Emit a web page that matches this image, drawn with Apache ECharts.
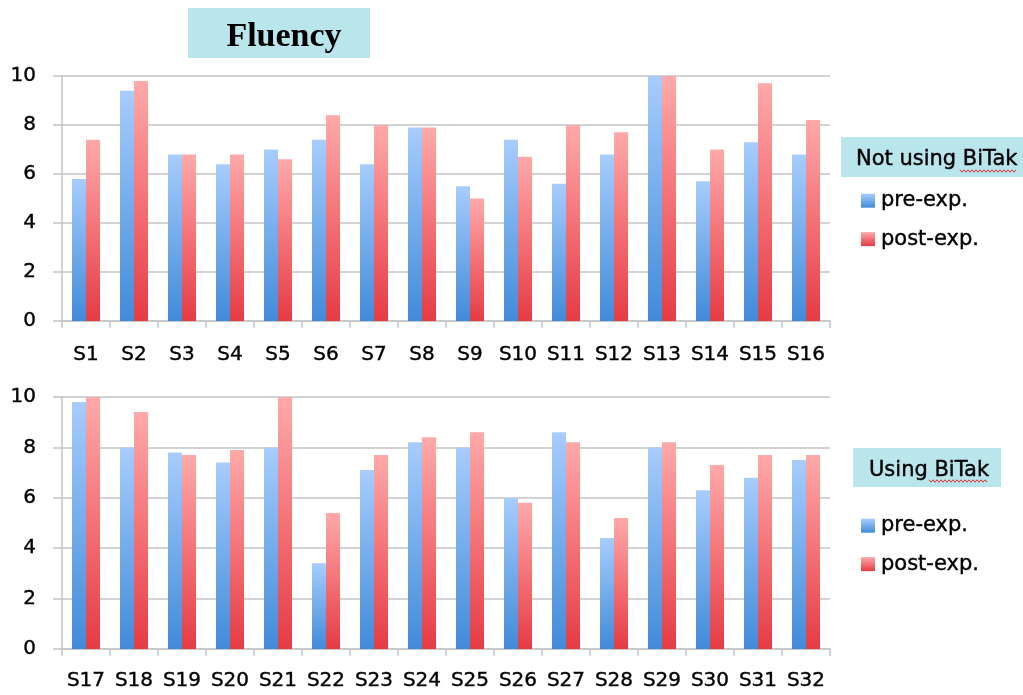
<!DOCTYPE html>
<html lang="en">
<head>
    <meta charset="UTF-8">
    <title>Fluency</title>
    <script src="https://cdn.jsdelivr.net/npm/echarts@6.0.0/dist/echarts.min.js"></script>
    <style>
        html, body { margin: 0; padding: 0; background: #fff; }
        #main { width: 1023px; height: 695px; }
    </style>
</head>
<body>
<div id="main"></div>
<script>
    // subjects without BiTak (top) and with BiTak (bottom)
    const subjectsTop = ['S1','S2','S3','S4','S5','S6','S7','S8','S9','S10','S11','S12','S13','S14','S15','S16'];
    const subjectsBottom = ['S17','S18','S19','S20','S21','S22','S23','S24','S25','S26','S27','S28','S29','S30','S31','S32'];

    const preTop  = [5.8, 9.4, 6.8, 6.4, 7.0, 7.4, 6.4, 7.9, 5.5, 7.4, 5.6, 6.8, 10, 5.7, 7.3, 6.8];
    const postTop = [7.4, 9.8, 6.8, 6.8, 6.6, 8.4, 8.0, 7.9, 5.0, 6.7, 8.0, 7.7, 10, 7.0, 9.7, 8.2];

    const preBottom  = [9.8, 8.0, 7.8, 7.4, 8.0, 3.4, 7.1, 8.2, 8.0, 6.0, 8.6, 4.4, 8.0, 6.3, 6.8, 7.5];
    const postBottom = [10, 9.4, 7.7, 7.9, 10, 5.4, 7.7, 8.4, 8.6, 5.8, 8.2, 5.2, 8.2, 7.3, 7.7, 7.7];

    const chart = echarts.init(document.getElementById('main'));

    const FONT = 'DejaVu Sans';
    // a thin outline makes the labels look as heavy as in the slide
    const heavy = { textBorderColor: '#000', textBorderWidth: 0.4 };

    // excel-like vertical gradients
    const blueFill = new echarts.graphic.LinearGradient(0, 0, 0, 1, [
        { offset: 0, color: '#a8ccfd' },
        { offset: 1, color: '#408bda' }
    ]);
    const redFill = new echarts.graphic.LinearGradient(0, 0, 0, 1, [
        { offset: 0, color: '#ffa9a9' },
        { offset: 1, color: '#e63b44' }
    ]);

    function xAxisFor(idx, cats, margin) {
        return {
            type: 'category',
            gridIndex: idx,
            data: cats,
            axisLine: { lineStyle: { color: '#c4c4c4', width: 1.5 } },
            axisTick: { show: true, length: 7, lineStyle: { color: '#c4c4c4', width: 1.5 } },
            axisLabel: Object.assign({ interval: 0, margin: margin, color: '#000', fontFamily: FONT, fontSize: 20 }, heavy)
        };
    }

    function yAxisFor(idx) {
        return {
            type: 'value',
            gridIndex: idx,
            min: 0, max: 10, interval: 2,
            axisLine: { show: true, lineStyle: { color: '#c4c4c4', width: 1.5 } },
            axisTick: { show: true, length: 9, lineStyle: { color: '#c4c4c4', width: 1.5 } },
            axisLabel: Object.assign({ margin: 26, color: '#000', fontFamily: FONT, fontSize: 20 }, heavy),
            splitLine: { lineStyle: { color: '#c4c4c4', width: 1.5 } }
        };
    }

    function barSeries(name, data, fill, idx) {
        return {
            name: name,
            type: 'bar',
            xAxisIndex: idx,
            yAxisIndex: idx,
            data: data,
            barWidth: 14,
            barGap: '0%',
            itemStyle: { color: fill },
            emphasis: { disabled: true }
        };
    }

    // red spell-check squiggle under "BiTak"
    function squiggle(x0, x1, y) {
        const pts = [];
        let up = true;
        for (let x = x0; x <= x1; x += 2) {
            pts.push([x, up ? y - 1.2 : y + 1.2]);
            up = !up;
        }
        return { type: 'polyline', shape: { points: pts }, style: { stroke: '#e03030', lineWidth: 1, fill: null }, z: 10 };
    }

    const legendStyle = {
        orient: 'vertical',
        icon: 'rect',
        itemWidth: 14,
        itemHeight: 14,
        itemGap: 17,
        textStyle: Object.assign({ color: '#000', fontFamily: FONT, fontSize: 21, padding: [0, 0, 0, 1] }, heavy),
        selectedMode: false
    };

    const option = {
        backgroundColor: '#fff',
        animation: false,
        title: [
            {
                text: 'Fluency',
                left: 279, top: 15, textAlign: 'center',
                textStyle: { fontFamily: 'Liberation Serif', fontWeight: 'bold', fontSize: 34, color: '#000' }
            },
            {
                text: 'Not using BiTak',
                left: 851, top: 144,
                textStyle: Object.assign({ fontFamily: FONT, fontWeight: 'normal', fontSize: 21, color: '#000' }, heavy)
            },
            {
                text: 'Using BiTak',
                left: 864, top: 455,
                textStyle: Object.assign({ fontFamily: FONT, fontWeight: 'normal', fontSize: 21, color: '#000' }, heavy)
            }
        ],
        graphic: [
            { type: 'rect', shape: { x: 188, y: 8, width: 182, height: 50 }, style: { fill: '#b9e5ec' }, z: -1 },
            { type: 'rect', shape: { x: 841, y: 137, width: 182, height: 40 }, style: { fill: '#b9e5ec' }, z: -1 },
            { type: 'rect', shape: { x: 853, y: 448, width: 148, height: 39 }, style: { fill: '#b9e5ec' }, z: -1 },
            squiggle(960, 1016, 171),
            squiggle(929, 988, 481)
        ],
        legend: [
            Object.assign({ left: 856, top: 185, data: ['pre-exp.', 'post-exp.'] }, legendStyle),
            Object.assign({ left: 856, top: 510, data: ['pre-exp.', 'post-exp.'] }, legendStyle)
        ],
        grid: [
            { left: 62, right: 193, top: 76, height: 245 },
            { left: 62, right: 193, top: 397, height: 252 }
        ],
        xAxis: [xAxisFor(0, subjectsTop, 24), xAxisFor(1, subjectsBottom, 22)],
        yAxis: [yAxisFor(0), yAxisFor(1)],
        series: [
            barSeries('pre-exp.', preTop, blueFill, 0),
            barSeries('post-exp.', postTop, redFill, 0),
            barSeries('pre-exp.', preBottom, blueFill, 1),
            barSeries('post-exp.', postBottom, redFill, 1)
        ]
    };

    chart.setOption(option);
</script>
</body>
</html>
